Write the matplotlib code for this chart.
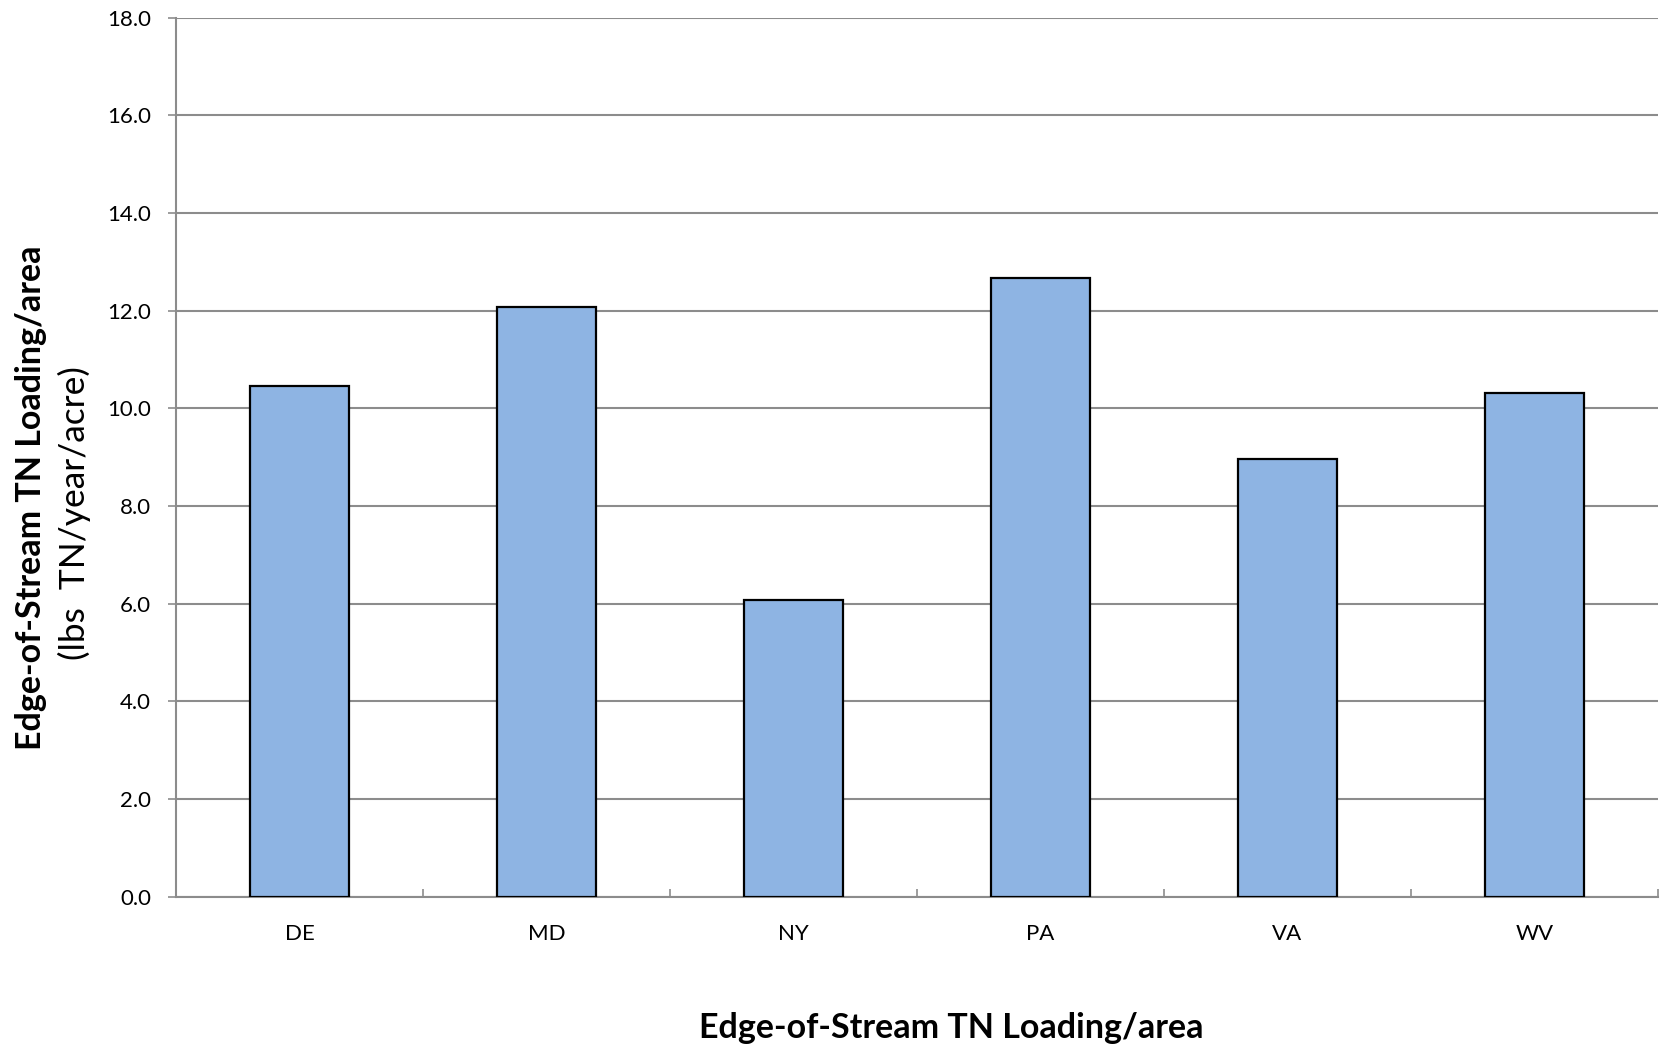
import matplotlib
matplotlib.use("Agg")
import matplotlib.pyplot as plt
import numpy as np

states = ["DE", "MD", "NY", "PA", "VA", "WV"]
loading = [10.45, 12.07, 6.07, 12.67, 8.97, 10.32]
yticks = [0, 2, 4, 6, 8, 10, 12, 14, 16, 18]

plt.rcParams['font.family'] = ['Lato', 'DejaVu Sans']

fig = plt.figure(figsize=(16.63, 10.5), dpi=100)
ax = fig.add_axes([176/1663, 153.3/1050, (1658-176)/1663, (896.7-17.5)/1050])

x = np.arange(len(states))
ax.set_axisbelow(True)
ax.yaxis.grid(True, color="#8c8c8c", linewidth=1.5)
ax.bar(x, loading, width=0.4, color="#8EB4E3", edgecolor="black", linewidth=1.6, zorder=3)

ax.set_xlim(-0.5, len(states) - 0.5)
ax.set_ylim(0, 18)
ax.set_yticks(yticks)
ax.set_yticklabels([f"{v:.1f}" for v in yticks])
ax.set_xticks(x)
ax.set_xticklabels(states)
ax.set_xticks(np.arange(-0.5, len(states)), minor=True)

for s in ["top", "right"]:
    ax.spines[s].set_visible(False)
for s in ["left", "bottom"]:
    ax.spines[s].set_color("#8c8c8c")
    ax.spines[s].set_linewidth(1.5)

ax.tick_params(axis="y", direction="out", length=6, width=1.2, color="#8c8c8c",
               labelsize=16, pad=12)
ax.tick_params(axis="x", which="major", length=0, labelsize=16, pad=20)
ax.tick_params(axis="x", which="minor", direction="in", length=6, width=1.2, color="#8c8c8c")

fig.text(0.0186, 0.526, "Edge-of-Stream TN Loading/area", rotation=90,
         fontsize=24.5, fontweight="bold", ha="center", va="center")
fig.text(0.0445, 0.511, "(lbs  TN/year/acre)", rotation=90,
         fontsize=25.5, ha="center", va="center")
fig.text(0.572, 0.021, "Edge-of-Stream TN Loading/area",
         fontsize=24.5, fontweight="bold", ha="center", va="center")

fig.savefig("out.png", dpi=100)
